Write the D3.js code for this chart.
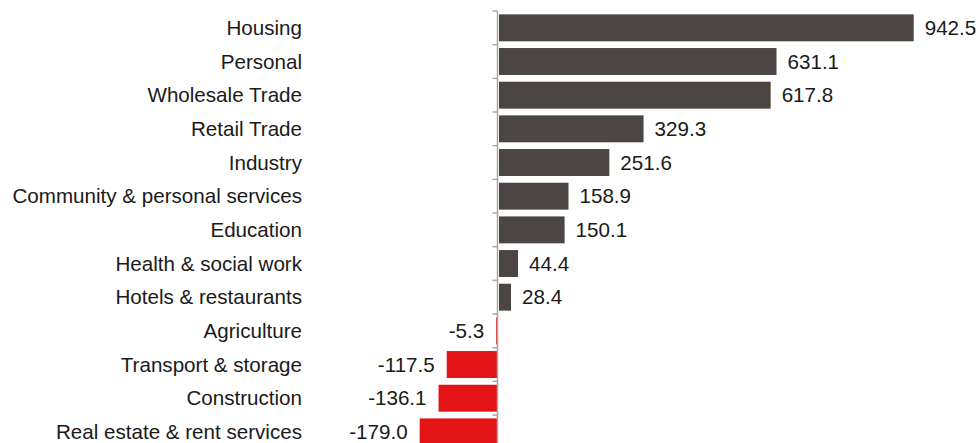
<!DOCTYPE html>
<html>
<head>
<meta charset="utf-8">
<script src="https://cdn.jsdelivr.net/npm/d3@7"></script>
<style>
  html, body { margin: 0; padding: 0; background: #ffffff; }
  svg { display: block; }
  text { font-family: "Liberation Sans", Arial, sans-serif; font-size: 20.6px; fill: #1a1a1a; }
</style>
</head>
<body>
<svg id="chart" width="978" height="443"></svg>
<script>
// Sectors and their change, largest first
const categories = [
  "Housing", "Personal", "Wholesale Trade", "Retail Trade", "Industry",
  "Community & personal services", "Education", "Health & social work",
  "Hotels & restaurants", "Agriculture", "Transport & storage",
  "Construction", "Real estate & rent services"
];
const values = [942.5, 631.1, 617.8, 329.3, 251.6, 158.9, 150.1, 44.4, 28.4, -5.3, -117.5, -136.1, -179.0];

const posColor = "#4b4643";
const negColor = "#e21418";

const svg = d3.select("#chart");
const plotTop = 11, bandStep = 33.67;
const axisX = 497.5;

const x = d3.scaleLinear().domain([0, 942.5]).range([498.5, 913.7]);
const y = d3.scaleBand()
  .domain(categories)
  .range([plotTop, plotTop + bandStep * categories.length])
  .paddingInner(0.2)
  .paddingOuter(0.1);

const data = categories.map((c, i) => ({ cat: c, val: values[i] }));

// Bars: positives start just right of the axis line, negatives run under it
svg.append("g").selectAll("rect")
  .data(data)
  .join("rect")
  .attr("x", d => d.val >= 0 ? axisX + 1.5 : x(d.val))
  .attr("y", d => y(d.cat))
  .attr("width", d => d.val >= 0 ? x(d.val) - (axisX + 1.5) : axisX - x(d.val))
  .attr("height", y.bandwidth())
  .attr("fill", d => d.val >= 0 ? posColor : negColor);

// Zero axis with ticks at the band boundaries
const axisG = svg.append("g");
axisG.append("line")
  .attr("x1", axisX).attr("x2", axisX)
  .attr("y1", plotTop).attr("y2", plotTop + bandStep * categories.length)
  .attr("stroke", "#a6a6a6").attr("stroke-width", 1.5);
axisG.selectAll("line.tick")
  .data(d3.range(categories.length + 1))
  .join("line")
  .attr("class", "tick")
  .attr("x1", axisX - 5).attr("x2", axisX)
  .attr("y1", i => plotTop + i * bandStep).attr("y2", i => plotTop + i * bandStep)
  .attr("stroke", "#a6a6a6").attr("stroke-width", 1.5);

// Category labels
svg.append("g").selectAll("text")
  .data(data)
  .join("text")
  .attr("x", 302)
  .attr("y", d => y(d.cat) + y.bandwidth() / 2)
  .attr("dy", "0.35em")
  .attr("text-anchor", "end")
  .text(d => d.cat);

// Value labels (plain hyphen for negatives)
svg.append("g").selectAll("text")
  .data(data)
  .join("text")
  .attr("x", d => d.val >= 0 ? x(d.val) + 11 : x(d.val) - 12)
  .attr("y", d => y(d.cat) + y.bandwidth() / 2)
  .attr("dy", "0.35em")
  .attr("text-anchor", d => d.val >= 0 ? "start" : "end")
  .text(d => d.val.toFixed(1));
</script>
</body>
</html>
